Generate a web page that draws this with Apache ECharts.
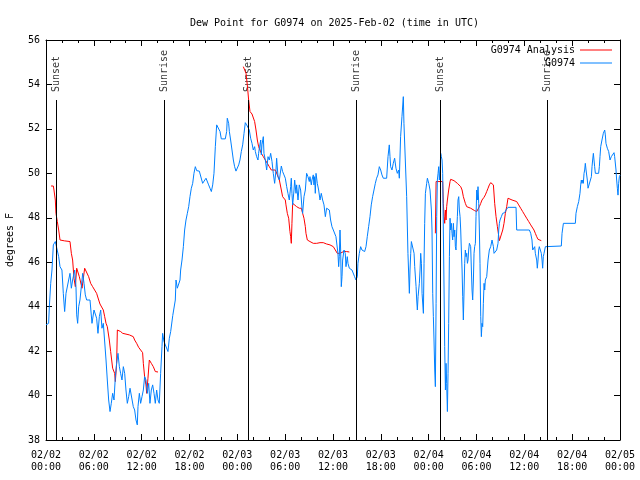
<!DOCTYPE html>
<html>
<head>
<meta charset="utf-8">
<script src="https://cdn.jsdelivr.net/npm/echarts@6/dist/echarts.min.js"></script>
<style>html,body{margin:0;padding:0;background:#fff}#c{width:640px;height:480px}</style>
</head>
<body>
<div id="c"></div>
<script>
// hours since 2025-02-02 00:00 UTC, dew point (F)
var blueDay1 = [[0,43.18],[0.33,43.25],[0.42,44.0],[0.59,45.05],[0.75,45.65],[0.92,46.78],[1.17,46.93],[1.42,46.85],[1.59,46.25],[1.76,45.8],[2.0,45.65],[2.17,44.6],[2.34,43.78],[2.51,44.6],[2.68,44.68],[2.84,45.2],[3.01,45.5],[3.18,44.83],[3.34,45.2],[3.6,45.65],[3.76,44.9],[3.85,43.63],[3.97,43.25],[4.1,44.0],[4.26,44.3],[4.43,44.9],[4.6,45.5],[4.77,45.05],[4.93,44.53],[5.1,44.3],[5.52,44.3],[5.77,43.25],[6.02,43.85],[6.19,43.85],[6.35,43.48],[6.52,42.8],[6.69,43.55],[6.86,43.85],[7.02,43.03],[7.19,43.25],[7.36,43.18],[7.53,41.6],[7.69,40.7],[7.86,39.8],[8.03,39.28],[8.19,39.65],[8.36,40.1],[8.53,39.8],[8.7,40.85],[8.86,41.45],[9.03,41.9],[9.2,41.3],[9.36,41.0],[9.53,40.7],[9.7,41.3],[9.87,41.0],[10.03,40.25],[10.2,39.65],[10.37,39.95],[10.54,40.33],[10.79,40.33],[10.95,39.5],[11.12,39.35],[11.29,38.9],[11.45,38.68],[11.54,39.5],[11.71,40.1],[11.87,39.65],[12.04,39.95],[12.21,40.25],[12.37,40.85],[12.54,40.7],[12.71,40.1],[12.88,40.55],[13.04,39.65],[13.21,40.25],[13.38,40.48],[13.55,40.1],[13.71,39.65],[13.88,40.25],[14.05,39.8],[14.21,39.65],[14.38,41.0],[14.55,42.2],[14.63,42.8],[14.8,42.43],[15.05,42.35],[15.3,41.98],[15.47,42.58],[15.64,42.88],[15.9,43.6],[16.22,44.3],[16.31,45.2],[16.47,44.83],[16.64,44.83],[16.81,45.2],[16.89,45.65],[17.06,46.1],[17.23,46.7],[17.39,47.45],[17.56,47.9],[17.73,48.2],[17.9,48.5],[18.06,48.95],[18.23,49.33],[18.4,49.55],[18.56,50.0],[18.73,50.3],[18.9,50.12],[19.23,50.1],[19.48,50.08],[19.65,49.55],[19.9,49.48],[20.07,49.78],[20.24,49.7],[20.4,49.48],[20.57,49.33],[20.74,49.18],[20.91,49.48],[21.07,50.0],[21.24,51.2],[21.41,52.18],[21.66,52.1],[21.83,51.88],[21.99,51.55],[22.24,51.55],[22.49,51.55],[22.66,51.88],[22.74,52.48],[22.91,52.25],[23.0,51.88],[23.16,51.5],[23.33,51.05],[23.5,50.6],[23.66,50.3],[23.83,50.1]];
var blueDay2 = [[24.0,50.15],[24.17,50.38],[24.33,50.6],[24.5,50.98],[24.67,51.28],[24.84,51.8],[25.0,52.28],[25.17,52.18],[25.34,52.22],[25.5,51.95],[25.67,51.58],[25.84,51.35],[26.0,51.05],[26.17,51.2],[26.26,50.98],[26.42,50.75],[26.59,50.6],[26.67,50.9],[26.76,51.13],[26.93,51.5],[27.01,50.83],[27.09,51.28],[27.26,51.65],[27.34,50.9],[27.51,50.6],[27.68,50.15],[27.85,50.75],[28.01,50.6],[28.18,50.9],[28.35,50.53],[28.51,50.0],[28.68,49.55],[28.85,50.15],[28.93,50.68],[29.1,49.85],[29.27,49.7],[29.52,50.33],[29.68,50.08],[29.85,49.93],[30.02,49.78],[30.19,49.4],[30.35,49.1],[30.52,48.8],[30.69,49.4],[30.77,49.78],[30.85,49.1],[30.94,48.58],[31.11,49.25],[31.19,49.7],[31.36,49.1],[31.44,49.48],[31.61,48.8],[31.77,49.48],[31.94,49.25],[32.11,48.43],[32.19,48.2],[32.36,48.95],[32.53,49.25],[32.69,50.0],[32.86,49.85],[33.03,49.63],[33.11,49.85],[33.28,49.48],[33.36,49.7],[33.53,49.93],[33.61,49.48],[33.7,49.85],[33.78,49.1],[33.87,50.0],[34.03,49.55],[34.2,49.25],[34.37,48.8],[34.53,49.1],[34.7,48.8],[34.87,48.58],[35.04,48.05],[35.2,48.43],[35.37,48.43],[35.54,48.35],[35.7,47.9],[35.87,47.6],[36.04,47.45],[36.21,47.38],[36.37,47.15],[36.54,47.08],[36.62,46.4],[36.71,45.8],[36.79,46.25],[36.88,47.45],[36.96,46.55],[37.04,44.9],[37.13,45.35],[37.21,46.1],[37.38,46.55],[37.54,46.4],[37.63,45.8],[37.79,46.25],[37.88,45.95],[38.05,45.73],[38.21,45.8],[38.38,45.65],[38.55,45.58],[38.71,45.35],[38.88,45.2],[39.05,45.35],[39.13,45.95],[39.3,46.4],[39.47,46.7],[39.63,46.55],[39.8,46.48],[39.97,46.48],[40.14,46.7],[40.3,47.15],[40.47,47.6],[40.64,48.05],[40.8,48.58],[40.97,48.95],[41.14,49.25],[41.31,49.55],[41.47,49.78],[41.64,49.93],[41.81,50.3],[41.98,50.15],[42.14,49.93],[42.31,49.78],[42.48,49.78],[42.73,49.78],[42.9,50.75],[43.06,51.28],[43.15,50.75],[43.23,50.3],[43.4,50.15],[43.56,50.45],[43.73,50.68],[43.9,50.23],[44.07,50.0],[44.23,50.15],[44.32,49.78],[44.48,51.65],[44.65,52.55],[44.82,53.45],[44.9,52.25],[45.07,50.6],[45.24,48.95],[45.4,46.4],[45.58,44.6],[45.66,45.65],[45.75,46.4],[45.83,46.93],[46.0,46.93],[46.17,46.4],[46.25,45.8],[46.42,44.9],[46.5,44.3],[46.58,43.85],[46.67,44.45],[46.83,45.05],[46.92,45.65],[47.0,46.4],[47.09,45.95],[47.17,44.6],[47.34,43.7],[47.42,45.95],[47.5,47.75],[47.59,49.1],[47.75,49.55],[47.84,49.78]];
var blueDay3 = [[48.01,49.55],[48.17,49.25],[48.34,48.35],[48.42,47.45],[48.51,44.6],[48.59,43.55],[48.67,42.5],[48.76,41.15],[48.84,40.4],[48.93,44.15],[49.01,48.05],[49.09,49.7],[49.18,50.0],[49.26,50.3],[49.34,49.7],[49.43,50.15],[49.51,50.9],[49.59,50.75],[49.68,50.6],[49.76,50.0],[49.84,47.45],[49.93,44.75],[50.01,42.2],[50.1,40.25],[50.18,41.45],[50.26,40.55],[50.35,39.28],[50.43,41.0],[50.51,43.25],[50.6,46.25],[50.68,47.98],[50.76,47.45],[50.85,47.75],[50.93,47.3],[51.01,47.0],[51.1,47.75],[51.18,47.15],[51.27,47.45],[51.35,46.7],[51.43,46.55],[51.52,47.45],[51.6,48.05],[51.68,48.8],[51.77,48.95],[51.85,48.35],[51.94,48.05],[52.02,47.45],[52.1,46.55],[52.19,45.65],[52.27,44.45],[52.35,43.4],[52.44,44.75],[52.52,45.95],[52.6,46.55],[52.69,46.25],[52.77,46.4],[52.86,45.95],[52.94,46.1],[53.02,46.55],[53.11,46.85],[53.19,46.85],[53.27,46.7],[53.36,45.65],[53.44,44.75],[53.52,44.3],[53.61,45.2],[53.69,46.4],[53.77,46.7],[53.86,46.85],[53.94,48.05],[54.03,49.25],[54.11,48.8],[54.19,49.4],[54.28,48.65],[54.36,47.45],[54.44,45.95],[54.53,43.55],[54.61,42.65],[54.69,43.25],[54.78,43.1],[54.86,44.15],[54.95,45.05],[55.03,44.75],[55.11,45.2],[55.28,45.35],[55.45,46.1],[55.61,46.55],[55.78,46.7],[55.95,47.0],[56.12,46.7],[56.2,46.4],[56.37,46.33],[56.53,46.55],[56.7,46.85],[56.79,47.45],[56.87,47.75],[56.95,47.9],[57.12,48.05],[57.28,48.2],[57.54,48.23],[57.7,48.35],[57.95,48.47],[58.96,48.47],[59.04,47.45],[60.63,47.45],[60.8,47.3],[60.96,47.0],[61.05,46.55],[61.21,46.48],[61.3,46.7],[61.38,46.4],[61.55,46.1],[61.63,45.73],[61.72,46.1],[61.8,46.55],[61.88,46.7],[62.05,46.7],[62.13,46.4],[62.22,46.1],[62.3,45.73],[62.38,46.25],[62.47,46.4],[62.55,46.48],[62.64,46.7],[64.64,46.73],[64.73,47.3],[64.9,47.75],[66.4,47.75],[66.48,48.2],[66.65,48.5],[66.82,48.73],[66.98,49.1],[67.07,49.48],[67.15,49.7],[67.23,49.55],[67.32,49.7],[67.4,49.55],[67.49,50.0],[67.57,50.15],[67.65,50.45],[67.74,50.15],[67.9,49.7],[67.99,49.33],[68.15,49.25],[68.24,49.4],[68.41,49.85],[68.49,50.3],[68.57,50.6],[68.66,50.9],[68.74,50.6],[68.82,50.3],[68.91,50.0],[69.32,50.0],[69.41,50.3],[69.49,50.75],[69.58,51.2],[69.74,51.5],[69.91,51.8],[70.08,51.95],[70.16,51.73],[70.24,51.35],[70.41,51.13],[70.58,50.98],[70.75,50.6],[70.91,50.75],[71.08,50.83],[71.25,50.93],[71.33,50.75],[71.5,50.15],[71.58,49.7],[71.67,49.33],[71.75,49.02],[71.83,49.55],[71.92,49.85],[72.0,49.92]];

var redSeg1 = [[0.63,49.43],[0.92,49.43],[1.0,49.25],[1.17,48.8],[1.25,48.2],[1.42,47.83],[1.59,47.45],[1.76,47.0],[2.34,46.96],[3.01,46.93],[3.18,46.4],[3.34,46.1],[3.51,45.28],[3.68,44.9],[3.85,45.73],[4.01,45.73],[4.18,45.35],[4.35,45.28],[4.52,44.83],[4.68,44.75],[4.85,45.73],[5.1,45.73],[5.35,45.35],[5.6,45.05],[5.85,44.9],[6.1,44.87],[6.35,44.6],[6.61,44.3],[6.77,44.12],[7.02,44.08],[7.19,43.85],[7.36,43.55],[7.53,43.25],[7.69,43.1],[7.94,42.5],[8.11,41.98],[8.36,41.23],[8.61,41.0],[8.7,40.63],[8.86,41.45],[8.95,42.95],[9.11,42.92],[9.36,42.88],[9.62,42.8],[9.87,42.77],[10.45,42.73],[10.95,42.65],[11.12,42.5],[11.37,42.35],[11.62,42.17],[11.87,42.08],[12.12,41.93],[12.21,41.45],[12.37,40.85],[12.54,40.48],[12.63,40.1],[12.79,40.78],[12.96,41.6],[13.21,41.45],[13.46,41.3],[13.71,41.08],[14.05,41.06]];
var redSeg2 = [[24.75,54.8],[25.0,54.77],[25.09,54.5],[25.25,53.98],[25.42,53.3],[25.59,52.78],[25.84,52.67],[26.0,52.63],[26.17,52.33],[26.34,51.95],[26.51,51.5],[26.67,51.2],[26.84,51.05],[27.01,50.9],[27.26,50.75],[27.51,50.6],[27.76,50.45],[28.01,50.3],[28.26,50.15],[28.51,50.15],[28.77,50.15],[29.02,49.93],[29.27,49.7],[29.52,49.25],[29.68,48.95],[29.85,48.88],[30.02,48.8],[30.1,48.58],[30.27,48.2],[30.44,47.98],[30.6,47.38],[30.69,47.15],[30.77,46.85],[30.85,47.75],[30.94,48.65],[31.11,48.58],[31.44,48.5],[31.77,48.43],[32.03,48.43],[32.19,48.2],[32.36,47.98],[32.53,47.6],[32.61,47.3],[32.78,47.0],[33.11,46.93],[33.53,46.85],[33.95,46.85],[34.37,46.88],[34.78,46.88],[35.2,46.82],[35.62,46.78],[36.04,46.7],[36.29,46.55],[36.54,46.4],[36.88,46.4],[37.13,46.45],[37.38,46.49],[37.71,46.48],[38.05,46.46]];
var redSeg3 = [[48.84,47.3],[48.93,49.63],[49.76,49.63],[49.84,48.65],[49.93,48.05],[50.01,47.75],[50.1,48.35],[50.18,47.9],[50.26,48.5],[50.35,48.8],[50.51,49.25],[50.68,49.63],[50.76,49.73],[50.93,49.73],[51.18,49.67],[51.35,49.58],[51.6,49.55],[51.85,49.52],[52.02,49.4],[52.19,49.25],[52.35,48.95],[52.6,48.65],[52.77,48.5],[53.02,48.47],[53.27,48.43],[53.52,48.35],[53.77,48.32],[54.03,48.28],[54.19,48.35],[54.36,48.5],[54.53,48.65],[54.69,48.8],[54.94,48.92],[55.11,49.03],[55.28,49.18],[55.45,49.33],[55.61,49.48],[55.78,49.58],[55.95,49.63],[56.12,49.48],[56.28,48.65],[56.45,48.05],[56.62,47.6],[56.87,46.97],[57.12,47.0],[57.29,47.45],[57.45,47.75],[57.62,48.2],[57.79,48.5],[57.95,48.88],[58.2,48.83],[58.46,48.8],[58.71,48.76],[59.04,48.73],[59.29,48.58],[59.54,48.43],[59.79,48.28],[60.04,48.13],[60.29,47.98],[60.55,47.83],[60.8,47.68],[61.05,47.6],[61.21,47.45],[61.38,47.3],[61.55,47.15],[61.72,47.03],[61.88,46.97],[62.13,46.97]];

var sunHours = [1.3, 14.84, 25.38, 38.9, 49.46, 62.88];
var sunNames = ['Sunset', 'Sunrise', 'Sunset', 'Sunrise', 'Sunset', 'Sunrise'];
var sunLineTop = 53.3;
var sunLabelBase = 53.66;

var xMin = 0, xMax = 72, xStep = 6;
var yMin = 38, yMax = 56, yStep = 2;

var FONT = 'DejaVu Sans Mono';
var txt = {fontFamily: FONT, fontSize: 10, color: '#000'};

function xLabel(h) {
  var d = 2 + Math.floor(h / 24);
  var hh = h % 24;
  return '02/0' + d + '\n' + (hh < 10 ? '0' : '') + hh + ':00';
}

var blueAll = blueDay1.concat(blueDay2, blueDay3);
var redAll = redSeg1.concat([[19, '-']], redSeg2, [[43, '-']], redSeg3);

var chart = echarts.init(document.getElementById('c'), null, {renderer: 'canvas'});
var axisLineStyle = {lineStyle: {color: '#000', width: 1}};
function xAx(pos, showLabel) {
  return {
    type: 'value', min: xMin, max: xMax, interval: xStep, position: pos,
    axisLine: Object.assign({show: true, onZero: false}, axisLineStyle),
    axisTick: {show: true, inside: true, length: 6, lineStyle: {color: '#000'}},
    minorTick: {show: true, splitNumber: 3, length: 3, lineStyle: {color: '#000'}},
    splitLine: {show: false}, minorSplitLine: {show: false},
    axisLabel: {show: showLabel, formatter: xLabel, margin: 9, lineHeight: 12,
      fontFamily: FONT, fontSize: 10, color: '#000', showMinLabel: true, showMaxLabel: true}
  };
}
function yAx(pos, showLabel) {
  var a = {
    type: 'value', min: yMin, max: yMax, interval: yStep, position: pos,
    axisLine: Object.assign({show: true, onZero: false}, axisLineStyle),
    axisTick: {show: true, inside: true, length: 6, lineStyle: {color: '#000'}},
    splitLine: {show: false},
    axisLabel: {show: showLabel, margin: 6, fontFamily: FONT, fontSize: 10, color: '#000',
      showMinLabel: true, showMaxLabel: true}
  };
  if (showLabel) {
    a.name = 'degrees F';
    a.nameLocation = 'middle';
    a.nameGap = 31;
    a.nameTextStyle = txt;
  }
  return a;
}

chart.setOption({
  animation: false,
  backgroundColor: '#fff',
  title: {text: 'Dew Point for G0974 on 2025-Feb-02 (time in UTC)', left: 185, top: 13,
    textStyle: {fontFamily: FONT, fontSize: 10, fontWeight: 'normal', color: '#000'}},
  legend: [
    {data: ['G0974 Analysis'], right: 28, top: 45, padding: 0, align: 'right', itemWidth: 32, itemHeight: 1,
      icon: 'rect', textStyle: txt, selectedMode: false},
    {data: ['G0974'], right: 28, top: 58, padding: 0, align: 'right', itemWidth: 32, itemHeight: 1,
      icon: 'rect', textStyle: txt, selectedMode: false}
  ],
  grid: {left: 46, right: 20, top: 40, bottom: 40, containLabel: false, outerBoundsMode: 'none'},
  xAxis: [xAx('bottom', true), xAx('top', false)],
  yAxis: [yAx('left', true), yAx('right', false)],
  series: [
    {
      name: 'sun', type: 'scatter', symbolSize: 0, silent: true,
      data: sunHours.map(function (h, i) { return {value: [h, sunLabelBase], name: sunNames[i]}; }),
      label: {show: true, formatter: '{b}', rotate: 90, position: 'inside', align: 'left',
        verticalAlign: 'middle', offset: [0, 0], fontFamily: FONT, fontSize: 10, color: '#000'},
      markLine: {
        silent: true, symbol: ['none', 'none'], animation: false,
        label: {show: false},
        lineStyle: {color: '#000', width: 1, type: 'solid'},
        emphasis: {disabled: true},
        data: sunHours.map(function (h) { return [{coord: [h, sunLineTop]}, {coord: [h, yMin]}]; })
      }
    },
    {
      name: 'G0974 Analysis', type: 'line', data: redAll, symbol: 'none', showSymbol: false,
      connectNulls: false, color: '#ff0000', lineStyle: {color: '#ff0000', width: 1}
    },
    {
      name: 'G0974', type: 'line', data: blueAll, symbol: 'none', showSymbol: false,
      color: '#0080ff', lineStyle: {color: '#0080ff', width: 1}
    }
  ]
});
</script>
</body>
</html>
